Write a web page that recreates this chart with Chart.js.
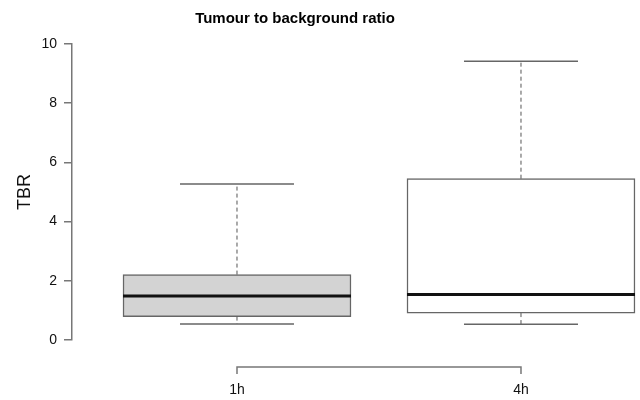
<!DOCTYPE html>
<html>
<head>
<meta charset="utf-8">
<script src="https://cdn.jsdelivr.net/npm/chart.js@4/dist/chart.umd.min.js"></script>
<style>
  html, body { margin: 0; padding: 0; background: #ffffff; }
  #wrap { width: 640px; height: 400px; }
</style>
</head>
<body>
<div id="wrap"><canvas id="c" width="640" height="400"></canvas></div>
<script>
// ---- data ----
const categories = ['1h', '4h'];
const positions = [1, 2];
const whiskerLow = [0.54, 0.53];
const q1 = [0.79, 0.91];
const median = [1.49, 1.54];
const q3 = [2.21, 5.45];
const whiskerHigh = [5.27, 9.42];
const boxFill = ['#d3d3d3', '#ffffff'];

const FONT = "'Liberation Sans', Arial, Helvetica, sans-serif";

const boxPlugin = {
  id: 'boxExtras',
  afterDatasetsDraw(chart) {
    const ctx = chart.ctx;
    const xs = chart.scales.x, ys = chart.scales.y;
    const meta = chart.getDatasetMeta(0);
    ctx.save();
    positions.forEach((p, i) => {
      const xc = xs.getPixelForValue(p);
      const w = meta.data[i].width;
      const capHalf = w / 4;
      // whiskers (dashed)
      ctx.strokeStyle = '#555';
      ctx.lineWidth = 1;
      ctx.setLineDash([4, 3]);
      ctx.beginPath();
      ctx.moveTo(xc, ys.getPixelForValue(q3[i]));
      ctx.lineTo(xc, ys.getPixelForValue(whiskerHigh[i]));
      ctx.moveTo(xc, ys.getPixelForValue(q1[i]));
      ctx.lineTo(xc, ys.getPixelForValue(whiskerLow[i]));
      ctx.stroke();
      // caps
      ctx.setLineDash([]);
      ctx.strokeStyle = '#666';
      ctx.lineWidth = 1.5;
      ctx.beginPath();
      const yh = ys.getPixelForValue(whiskerHigh[i]);
      const yl = ys.getPixelForValue(whiskerLow[i]);
      ctx.moveTo(xc - capHalf, yh); ctx.lineTo(xc + capHalf, yh);
      ctx.moveTo(xc - capHalf, yl); ctx.lineTo(xc + capHalf, yl);
      ctx.stroke();
      // median
      ctx.strokeStyle = '#111';
      ctx.lineWidth = 3;
      ctx.beginPath();
      const ym = ys.getPixelForValue(median[i]);
      ctx.moveTo(xc - w / 2, ym); ctx.lineTo(xc + w / 2, ym);
      ctx.stroke();
    });
    // detached x axis bracket
    const x0 = xs.getPixelForValue(positions[0]);
    const x1 = xs.getPixelForValue(positions[positions.length - 1]);
    const yb = chart.chartArea.bottom + 27;
    ctx.strokeStyle = '#777';
    ctx.lineWidth = 1.5;
    ctx.beginPath();
    ctx.moveTo(x0, yb + 7); ctx.lineTo(x0, yb); ctx.lineTo(x1, yb); ctx.lineTo(x1, yb + 7);
    ctx.stroke();
    ctx.restore();
  }
};

new Chart(document.getElementById('c'), {
  type: 'bar',
  data: {
    datasets: [{
      data: positions.map((p, i) => ({ x: p, y: [q1[i], q3[i]] })),
      backgroundColor: boxFill,
      borderColor: '#666',
      borderWidth: 1.5,
      borderSkipped: false,
      barThickness: 228,
      clip: false
    }]
  },
  options: {
    responsive: false,
    animation: false,
    devicePixelRatio: 1,
    layout: { padding: { left: 0, right: 50, top: 0, bottom: 0 } },
    plugins: {
      legend: { display: false },
      tooltip: { enabled: false },
      title: {
        display: true,
        text: 'Tumour to background ratio',
        color: '#000',
        font: { family: FONT, size: 15, weight: 'bold' },
        padding: { top: 10, bottom: 16 }
      }
    },
    scales: {
      x: {
        type: 'linear',
        offset: false,
        min: 0.419,
        max: 2.243,
        grid: { display: false, drawTicks: false, offset: false },
        border: { display: false },
        afterBuildTicks: (s) => { s.ticks = positions.map(v => ({ value: v })); },
        afterFit: (s) => { s.height = 60; },
        ticks: {
          padding: 42,
          color: '#111',
          font: { family: FONT, size: 14 },
          callback: (v) => { const i = positions.indexOf(v); return i >= 0 ? categories[i] : ''; }
        }
      },
      y: {
        min: 0,
        max: 10,
        afterFit: (s) => { s.width = 72; },
        grid: { drawOnChartArea: false, drawTicks: true, tickLength: 8, color: '#777', lineWidth: 1.5 },
        border: { display: true, color: '#777', width: 1.5 },
        ticks: {
          stepSize: 2,
          padding: 7,
          color: '#111',
          font: { family: FONT, size: 14 }
        },
        title: {
          display: true,
          text: 'TBR',
          color: '#111',
          font: { family: FONT, size: 18 },
          padding: { top: 14, bottom: 0 }
        }
      }
    }
  },
  plugins: [boxPlugin]
});
</script>
</body>
</html>
